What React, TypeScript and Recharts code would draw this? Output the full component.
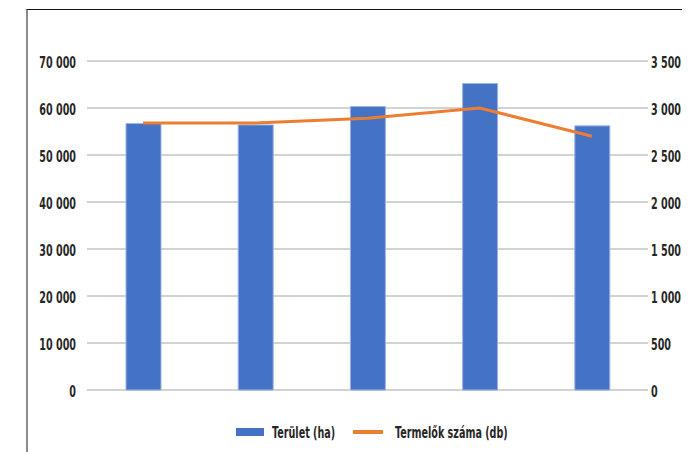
import React from 'react';
import { ComposedChart, Bar, Line, XAxis, YAxis, CartesianGrid, Legend } from 'recharts';

// Chart values (no category labels are shown)
const categories = ['1', '2', '3', '4', '5'];
const area = [56700, 56400, 60300, 65200, 56200]; // Terület (ha)
const growers = [2840, 2840, 2890, 3000, 2700]; // Termelők száma (db)

const leftTicks = [0, 10000, 20000, 30000, 40000, 50000, 60000, 70000];
const rightTicks = [0, 500, 1000, 1500, 2000, 2500, 3000, 3500];

const BLUE = '#4472c4';
const ORANGE = '#ed7d31';
const FONT = '"DejaVu Sans", sans-serif';
const TEXT = '#262626';
const SQUEEZE = 0.6; // condensed look

const fmt = (v: number) => v.toLocaleString('en-US').replace(/,/g, ' ');

const data = categories.map((name, i) => ({ name, area: area[i], growers: growers[i] }));

function NarrowText({ x, y, anchor, children }: any) {
  return (
    <text
      transform={`translate(${x},${y}) scale(${SQUEEZE},1)`}
      textAnchor={anchor}
      dy="0.355em"
      fontFamily={FONT}
      fontSize={16}
      fontWeight="bold"
      fill={TEXT}
    >
      {children}
    </text>
  );
}

const LeftTick = (props: any) => (
  <NarrowText x={props.x} y={props.y + 1} anchor="end">{fmt(props.payload.value)}</NarrowText>
);
const RightTick = (props: any) => (
  <NarrowText x={props.x} y={props.y + 1} anchor="start">{fmt(props.payload.value)}</NarrowText>
);

function ChartLegend() {
  return (
    <svg width={682} height={20} style={{ display: 'block' }}>
      <rect x={228} y={6} width={28} height={8} fill={BLUE} />
      <NarrowText x={264} y={10} anchor="start">Terület (ha)</NarrowText>
      <line x1={345} x2={375} y1={10} y2={10} stroke={ORANGE} strokeWidth={4} />
      <NarrowText x={387} y={10} anchor="start">Termelők száma (db)</NarrowText>
    </svg>
  );
}

export default function App() {
  return (
    <div style={{ position: 'relative', width: 682, height: 444 }}>
      <div
        style={{
          position: 'absolute',
          left: 18,
          top: 1,
          right: -10,
          bottom: -10,
          borderTop: '1px solid #111',
          borderLeft: '2px solid #8a8a8a',
        }}
      />
      <ComposedChart
        width={682}
        height={444}
        data={data}
        margin={{ top: 53, right: 0, bottom: 10, left: 0 }}
        style={{ position: 'relative' }}
      >
        <CartesianGrid yAxisId="left" vertical={false} stroke="#a6a6a6" />
        <XAxis dataKey="name" tick={false} tickLine={false} axisLine={false} height={32} />
        <YAxis
          yAxisId="left"
          width={79}
          domain={[0, 70000]}
          ticks={leftTicks}
          tickLine={false}
          axisLine={false}
          tickSize={0}
          tickMargin={11}
          tick={<LeftTick />}
        />
        <YAxis
          yAxisId="right"
          orientation="right"
          width={42}
          domain={[0, 3500]}
          ticks={rightTicks}
          tickLine={false}
          axisLine={false}
          tickSize={0}
          tickMargin={3}
          tick={<RightTick />}
        />
        <Legend verticalAlign="bottom" content={() => <ChartLegend />} />
        <Bar
          yAxisId="left"
          dataKey="area"
          name="Terület (ha)"
          fill={BLUE}
          stroke="#9db3e3"
          strokeWidth={1}
          barSize={35}
          isAnimationActive={false}
        />
        <Line
          yAxisId="right"
          dataKey="growers"
          name="Termelők száma (db)"
          stroke={ORANGE}
          strokeWidth={3}
          dot={false}
          activeDot={false}
          isAnimationActive={false}
        />
      </ComposedChart>
    </div>
  );
}
